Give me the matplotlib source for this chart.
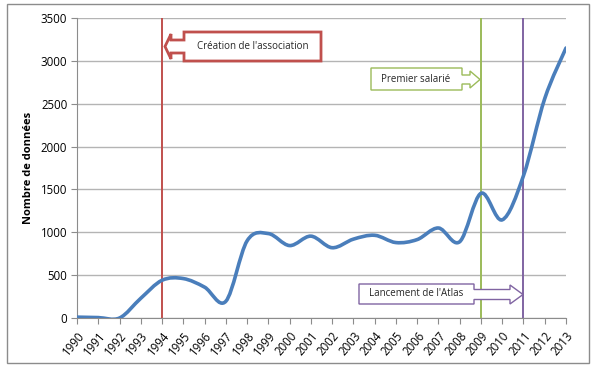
import matplotlib
matplotlib.use("Agg")
import matplotlib.pyplot as plt
from matplotlib.path import Path
from matplotlib.patches import PathPatch, Polygon, Rectangle
from matplotlib.transforms import Affine2D
import numpy as np

years = list(range(1990, 2014))
values = [10, 5, 0, 230, 440, 460, 360, 195, 900, 985, 845, 955, 820, 920, 965, 880, 915, 1050, 890, 1455, 1145, 1660, 2560, 3150]
events = [1994, 2009, 2011]
event_colors = ["#C0504D", "#9BBB59", "#8064A2"]
event_labels = ["Création de l'association", "Premier salarié", "Lancement de l'Atlas"]
ylabel = "Nombre de données"

plt.rcParams['font.family'] = ['Open Sans', 'DejaVu Sans']

W, H = 600, 392
fig = plt.figure(figsize=(W / 100, H / 100), dpi=100)
ax = fig.add_axes([77 / W, 1 - 318 / H, (566 - 77) / W, (318 - 18) / H])

# pixel transform (x right, y down)
px = Affine2D().scale(1 / W, -1 / H).translate(0, 1) + fig.transFigure

# outer frame
fig.patches.append(Rectangle((7, 4), 582, 359, transform=px, fill=False,
                             edgecolor="#8c8c8c", linewidth=1.0))

# smooth line (Excel-like Bezier)
x = np.array(years, dtype=float)
y = np.array(values, dtype=float)
n = len(x)
verts = [(x[0], y[0])]
codes = [Path.MOVETO]
for i in range(n - 1):
    i0 = max(i - 1, 0)
    i3 = min(i + 2, n - 1)
    c1 = (x[i] + (x[i + 1] - x[i0]) / 6, y[i] + (y[i + 1] - y[i0]) / 6)
    c2 = (x[i + 1] - (x[i3] - x[i]) / 6, y[i + 1] - (y[i3] - y[i]) / 6)
    verts += [c1, c2, (x[i + 1], y[i + 1])]
    codes += [Path.CURVE4] * 3
ax.add_patch(PathPatch(Path(verts, codes), fill=False, edgecolor="#4A7EBB",
                       linewidth=2.6, capstyle='round', joinstyle='round', zorder=4))

for yr, c in zip(events, event_colors):
    ax.axvline(yr, color=c, linewidth=1.4, zorder=3)

ax.set_xlim(1990, 2013)
ax.set_ylim(0, 3500)
ax.set_yticks(range(0, 3501, 500))
ax.set_xticks(years)
ax.set_xticklabels([str(v) for v in years], rotation=50, ha='right',
                   rotation_mode='anchor', fontsize=8.3)
ax.tick_params(axis='y', labelsize=8.3, length=4, color="#8c8c8c", pad=3)
ax.tick_params(axis='x', length=4, color="#8c8c8c", pad=4)
ax.grid(axis='y', color="#b4b4b4", linewidth=1.0)
ax.set_axisbelow(True)
for s in ['top', 'right']:
    ax.spines[s].set_visible(False)
for s in ['left', 'bottom']:
    ax.spines[s].set_color("#8c8c8c")
ax.set_ylabel(ylabel, fontsize=8, fontweight='bold', labelpad=5)

# callouts (pixel coordinates of layout)
shapes = [
    [(184, 32), (321, 32), (321, 61), (184, 61), (184, 53), (171, 53), (171, 59),
     (165, 46.5), (171, 34), (171, 40), (184, 40)],
    [(371, 68), (462, 68), (462, 75), (470, 75), (470, 71), (480, 79.5), (470, 88),
     (470, 84), (462, 84), (462, 90), (371, 90)],
    [(359, 284), (474, 284), (474, 289.5), (510, 289.5), (510, 285), (523, 294.5),
     (510, 304), (510, 299.5), (474, 299.5), (474, 304), (359, 304)],
]
widths = [2.0, 1.0, 1.0]
centers = [(253, 46.5), (416, 79), (416, 294)]
for pts, c, lw, lab, (cx, cy) in zip(shapes, event_colors, widths, event_labels, centers):
    fig.patches.append(Polygon(pts, closed=True, transform=px, facecolor='white',
                               edgecolor=c, linewidth=lw, zorder=5))
    fig.text(cx, cy, lab, transform=px, ha='center', va='center', fontsize=7.0,
             color="#262626", zorder=6)

fig.savefig("out.png", dpi=100)
